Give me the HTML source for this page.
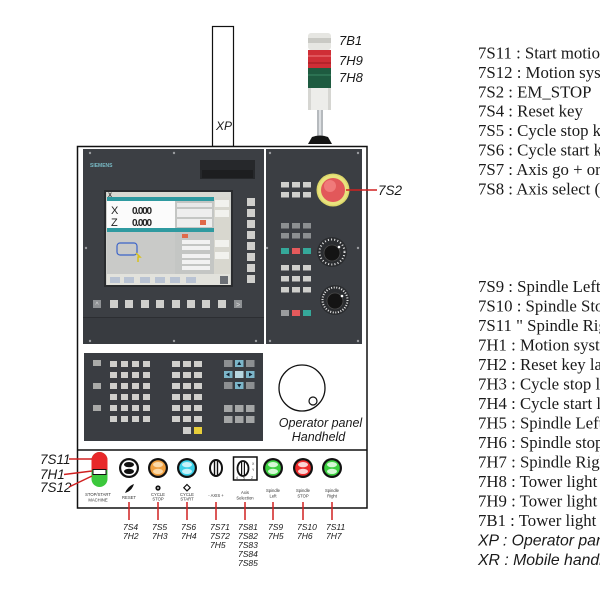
<!DOCTYPE html>
<html><head><meta charset="utf-8"><style>
html,body{margin:0;padding:0;background:#fff;width:600px;height:600px;overflow:hidden}
svg{display:block}
.lg{font-family:"Liberation Serif",serif;font-size:16.8px;fill:#1a1a1a}
.lgi{font-family:"Liberation Sans",sans-serif;font-style:italic;font-size:15.8px;fill:#1a1a1a}
.it{font-family:"Liberation Sans",sans-serif;font-style:italic;fill:#1a1a1a}
.tiny{font-family:"Liberation Sans",sans-serif;font-size:4.2px;fill:#333;text-anchor:middle}
.k{fill:#cfcfcc}
.kd{fill:#8c8f91}
.kb{fill:#7cb6c9}
</style></head><body>
<svg width="600" height="600" viewBox="0 0 600 600" xmlns="http://www.w3.org/2000/svg">
<rect width="600" height="600" fill="#fff"/>

<!-- XP box -->
<rect x="212.5" y="26.5" width="21" height="120" fill="none" stroke="#111" stroke-width="1.2"/>
<text x="216" y="130" class="it" font-size="12">XP</text>

<!-- Tower light -->
<rect x="308" y="33" width="23" height="17" rx="3" fill="#e6e6e2"/>
<rect x="308" y="38" width="23" height="5" fill="#c9c9c4"/>
<rect x="308" y="50" width="23" height="18" fill="#cf2e36"/>
<rect x="308" y="55" width="23" height="2" fill="#e0555b"/>
<rect x="308" y="62" width="23" height="2" fill="#b5232b"/>
<rect x="308" y="68" width="23" height="20" fill="#1e5b40"/>
<rect x="308" y="74" width="23" height="2" fill="#2c7252"/>
<rect x="308" y="88" width="23" height="22" fill="#ededea"/>
<rect x="308" y="88" width="3" height="22" fill="#d6d6d2"/>
<rect x="328" y="88" width="3" height="22" fill="#d6d6d2"/>
<rect x="317" y="110" width="6" height="26" fill="#b6babe"/>
<rect x="319" y="110" width="2" height="26" fill="#dde0e3"/>
<path d="M308 144 L312 137 Q320 134 328 137 L332 144 Z" fill="#141414"/>
<text x="339" y="45" class="it" font-size="13">7B1</text>
<text x="339" y="65" class="it" font-size="13">7H9</text>
<text x="339" y="82" class="it" font-size="13">7H8</text>

<!-- Panel outline -->
<rect x="77.5" y="146.5" width="289.5" height="361.5" fill="#fff" stroke="#111" stroke-width="1.5"/>
<line x1="77.5" y1="450" x2="367" y2="450" stroke="#111" stroke-width="1.5"/>

<!-- Left dark panel -->
<rect x="83" y="149" width="181" height="195" fill="#3c3f44"/>
<rect x="83" y="318" width="181" height="26" fill="#383b40"/>
<line x1="83" y1="317.5" x2="264" y2="317.5" stroke="#2c2e32" stroke-width="1"/>
<circle cx="90" cy="153" r="1.2" fill="#9a9c9f"/>
<circle cx="174" cy="153" r="1.2" fill="#9a9c9f"/>
<circle cx="86" cy="248" r="1.2" fill="#9a9c9f"/>
<circle cx="90" cy="341" r="1.2" fill="#9a9c9f"/>
<circle cx="174" cy="341" r="1.2" fill="#9a9c9f"/>
<circle cx="256" cy="341" r="1.2" fill="#9a9c9f"/>
<text x="90" y="167" font-family="Liberation Sans,sans-serif" font-size="5" fill="#78b9c4" font-weight="bold">SIEMENS</text>
<rect x="200" y="160" width="55" height="19" fill="#26282b"/>
<rect x="202" y="170" width="51" height="8" fill="#1d1e20"/>

<!-- Screen -->
<rect x="104" y="190" width="129" height="97" fill="#2a2c2f"/>
<rect x="106" y="192" width="125" height="93" fill="#cfd0cc"/>
<rect x="107" y="192" width="123" height="5" fill="#d9d9d2"/>
<text x="108" y="197" font-family="Liberation Sans,sans-serif" font-size="6" font-weight="bold" fill="#333">X</text>
<rect x="107" y="197" width="107" height="4" fill="#2f9aa0"/>
<rect x="107" y="201" width="68" height="27" fill="#fbfbfb"/>
<text x="111" y="214" font-family="Liberation Sans,sans-serif" font-size="11" fill="#222">X</text>
<text x="111" y="226" font-family="Liberation Sans,sans-serif" font-size="11" fill="#222">Z</text>
<text x="132" y="214" font-family="Liberation Sans,sans-serif" font-size="10" font-weight="bold" fill="#222" textLength="20">0.000</text>
<text x="132" y="226" font-family="Liberation Sans,sans-serif" font-size="10" font-weight="bold" fill="#222" textLength="20">0.000</text>
<rect x="175" y="201" width="39" height="27" fill="#c4c6c4"/>
<rect x="177" y="203" width="35" height="4" fill="#e8e8e8"/>
<rect x="177" y="209" width="35" height="8" fill="#eeeeee"/>
<rect x="177" y="219" width="35" height="8" fill="#eeeeee"/>
<rect x="200" y="220" width="6" height="5" fill="#e06a4a"/>
<rect x="107" y="228" width="107" height="4" fill="#2f9aa0"/>
<rect x="107" y="232" width="68" height="42" fill="#c9cac8"/>
<rect x="117" y="243" width="20" height="12" rx="3" fill="none" stroke="#3c64c8" stroke-width="1.2"/>
<path d="M136 253 l4 4 l-2 0 l0 5" stroke="#d8c21a" stroke-width="1.5" fill="none"/>
<rect x="175" y="232" width="39" height="42" fill="#c4c6c4"/>
<rect x="182" y="234" width="6" height="4" fill="#e06a4a"/>
<rect x="182" y="240" width="28" height="4" fill="#f2f2f2"/>
<rect x="182" y="246" width="28" height="4" fill="#f2f2f2"/>
<rect x="182" y="254" width="28" height="4" fill="#f2f2f2"/>
<rect x="182" y="260" width="28" height="4" fill="#f2f2f2"/>
<rect x="182" y="266" width="28" height="4" fill="#f2f2f2"/>
<rect x="214" y="197" width="16" height="77" fill="#d8d7cf"/>
<rect x="215" y="200" width="14" height="7" fill="#f2f2ee"/>
<rect x="215" y="210" width="14" height="7" fill="#f2f2ee"/>
<rect x="215" y="240" width="14" height="7" fill="#f2f2ee"/>
<rect x="215" y="252" width="14" height="7" fill="#f2f2ee"/>
<rect x="107" y="274" width="123" height="11" fill="#e2e2dc"/>
<rect x="110" y="277" width="10" height="6" fill="#b9c3d3"/>
<rect x="124" y="277" width="10" height="6" fill="#b9c3d3"/>
<rect x="140" y="277" width="10" height="6" fill="#b9c3d3"/>
<rect x="155" y="277" width="10" height="6" fill="#b9c3d3"/>
<rect x="170" y="277" width="10" height="6" fill="#b9c3d3"/>
<rect x="186" y="277" width="10" height="6" fill="#b9c3d3"/>
<rect x="220" y="276" width="8" height="8" fill="#6b6f75"/>

<!-- vertical softkeys -->
<rect x="247" y="198" width="8" height="8" class="k"/>
<rect x="247" y="209" width="8" height="8" class="k"/>
<rect x="247" y="220" width="8" height="8" class="k"/>
<rect x="247" y="231" width="8" height="8" class="k"/>
<rect x="247" y="242" width="8" height="8" class="k"/>
<rect x="247" y="253" width="8" height="8" class="k"/>
<rect x="247" y="264" width="8" height="8" class="k"/>
<rect x="247" y="275" width="8" height="8" class="k"/>
<!-- horizontal softkeys -->
<rect x="93" y="300" width="8" height="8" fill="#8f9295"/>
<text x="97" y="307" font-family="Liberation Sans,sans-serif" font-size="7" fill="#ddd" text-anchor="middle">^</text>
<rect x="110" y="300" width="8" height="8" class="k"/>
<rect x="125" y="300" width="8" height="8" class="k"/>
<rect x="141" y="300" width="8" height="8" class="k"/>
<rect x="156" y="300" width="8" height="8" class="k"/>
<rect x="172" y="300" width="8" height="8" class="k"/>
<rect x="187" y="300" width="8" height="8" class="k"/>
<rect x="202" y="300" width="8" height="8" class="k"/>
<rect x="218" y="300" width="8" height="8" class="k"/>
<rect x="234" y="300" width="8" height="8" fill="#8f9295"/>
<text x="238" y="307" font-family="Liberation Sans,sans-serif" font-size="7" fill="#ddd" text-anchor="middle">&gt;</text>

<!-- Right dark panel -->
<rect x="266" y="149" width="96" height="195" fill="#3b3e43"/>
<circle cx="270" cy="153" r="1.2" fill="#9a9c9f"/>
<circle cx="358" cy="153" r="1.2" fill="#9a9c9f"/>
<circle cx="267" cy="248" r="1.2" fill="#9a9c9f"/>
<circle cx="358" cy="248" r="1.2" fill="#9a9c9f"/>
<circle cx="270" cy="341" r="1.2" fill="#9a9c9f"/>
<circle cx="358" cy="341" r="1.2" fill="#9a9c9f"/>
<!-- group 1 -->
<rect x="281" y="182" width="8" height="5.5" class="k"/>
<rect x="292" y="182" width="8" height="5.5" class="k"/>
<rect x="303" y="182" width="8" height="5.5" class="k"/>
<rect x="281" y="192" width="8" height="5.5" class="k"/>
<rect x="292" y="192" width="8" height="5.5" class="k"/>
<rect x="303" y="192" width="8" height="5.5" class="k"/>
<!-- group 2 -->
<rect x="281" y="223" width="8" height="5.5" class="kd"/>
<rect x="292" y="223" width="8" height="5.5" class="kd"/>
<rect x="303" y="223" width="8" height="5.5" class="kd"/>
<rect x="281" y="233" width="8" height="5.5" class="kd"/>
<rect x="292" y="233" width="8" height="5.5" class="kd"/>
<rect x="303" y="233" width="8" height="5.5" class="kd"/>
<!-- color row -->
<rect x="281" y="248" width="8" height="6" fill="#35a89a"/>
<rect x="292" y="248" width="8" height="6" fill="#e55a5c"/>
<rect x="303" y="248" width="8" height="6" fill="#35a89a"/>
<!-- group 3 -->
<rect x="281" y="265" width="8" height="5.5" class="k"/>
<rect x="292" y="265" width="8" height="5.5" class="k"/>
<rect x="303" y="265" width="8" height="5.5" class="k"/>
<rect x="281" y="276" width="8" height="5.5" class="k"/>
<rect x="292" y="276" width="8" height="5.5" class="k"/>
<rect x="303" y="276" width="8" height="5.5" class="k"/>
<rect x="281" y="287" width="8" height="5.5" class="k"/>
<rect x="292" y="287" width="8" height="5.5" class="k"/>
<rect x="303" y="287" width="8" height="5.5" class="k"/>
<!-- last row -->
<rect x="281" y="310" width="8" height="6" fill="#9a9c9e"/>
<rect x="292" y="310" width="8" height="6" fill="#e55a5c"/>
<rect x="303" y="310" width="8" height="6" fill="#35a89a"/>
<!-- E-stop -->
<circle cx="333" cy="190" r="16.5" fill="#dcd76a"/>
<circle cx="333" cy="190" r="15" fill="#e9e37e"/>
<circle cx="333" cy="190" r="12" fill="#e2585a"/>
<circle cx="330" cy="186" r="6" fill="#f07a7a"/>
<line x1="346" y1="190" x2="377" y2="190" stroke="#d02020" stroke-width="1.5"/>
<text x="378" y="195" class="it" font-size="13.5">7S2</text>
<!-- knobs -->
<circle cx="332" cy="252" r="15" fill="#2b2d30"/>
<circle cx="332" cy="252" r="12.5" fill="none" stroke="#e8e8e8" stroke-width="2" stroke-dasharray="1 2.2"/>
<circle cx="332" cy="253" r="8" fill="#141414" stroke="#4a4a4a" stroke-width="0.8"/>
<circle cx="339" cy="247" r="1.3" fill="#fff"/>
<circle cx="335" cy="300" r="15" fill="#2b2d30"/>
<circle cx="335" cy="300" r="12.5" fill="none" stroke="#e8e8e8" stroke-width="2" stroke-dasharray="1 1.6"/>
<circle cx="335" cy="301" r="8" fill="#141414" stroke="#4a4a4a" stroke-width="0.8"/>
<circle cx="342" cy="296" r="1.3" fill="#fff"/>

<!-- Keyboard -->
<rect x="84" y="353" width="179" height="88" fill="#3a3d42"/>
<rect x="93" y="360" width="8" height="6" fill="#a9aaa8"/>
<rect x="93" y="383" width="8" height="6" fill="#a9aaa8"/>
<rect x="93" y="405" width="8" height="6" fill="#a9aaa8"/>
<!-- alpha -->
<g class="k">
<rect x="110" y="361" width="7" height="6"/><rect x="121" y="361" width="7" height="6"/><rect x="132" y="361" width="7" height="6"/><rect x="143" y="361" width="7" height="6"/>
<rect x="110" y="372" width="7" height="6"/><rect x="121" y="372" width="7" height="6"/><rect x="132" y="372" width="7" height="6"/><rect x="143" y="372" width="7" height="6"/>
<rect x="110" y="383" width="7" height="6"/><rect x="121" y="383" width="7" height="6"/><rect x="132" y="383" width="7" height="6"/><rect x="143" y="383" width="7" height="6"/>
<rect x="110" y="394" width="7" height="6"/><rect x="121" y="394" width="7" height="6"/><rect x="132" y="394" width="7" height="6"/><rect x="143" y="394" width="7" height="6"/>
<rect x="110" y="405" width="7" height="6"/><rect x="121" y="405" width="7" height="6"/><rect x="132" y="405" width="7" height="6"/><rect x="143" y="405" width="7" height="6"/>
<rect x="110" y="416" width="7" height="6"/><rect x="121" y="416" width="7" height="6"/><rect x="132" y="416" width="7" height="6"/><rect x="143" y="416" width="7" height="6"/>
<!-- numeric -->
<rect x="172" y="361" width="8" height="6"/><rect x="183" y="361" width="8" height="6"/><rect x="194" y="361" width="8" height="6"/>
<rect x="172" y="372" width="8" height="6"/><rect x="183" y="372" width="8" height="6"/><rect x="194" y="372" width="8" height="6"/>
<rect x="172" y="383" width="8" height="6"/><rect x="183" y="383" width="8" height="6"/><rect x="194" y="383" width="8" height="6"/>
<rect x="172" y="394" width="8" height="6"/><rect x="183" y="394" width="8" height="6"/><rect x="194" y="394" width="8" height="6"/>
<rect x="172" y="405" width="8" height="6"/><rect x="183" y="405" width="8" height="6"/><rect x="194" y="405" width="8" height="6"/>
<rect x="172" y="416" width="8" height="6"/><rect x="183" y="416" width="8" height="6"/><rect x="194" y="416" width="8" height="6"/>
<rect x="183" y="427" width="8" height="7"/>
</g>
<rect x="194" y="427" width="8" height="7" fill="#e8cf3a"/>
<!-- right group -->
<rect x="224" y="360" width="8.5" height="7" class="kd"/>
<rect x="235" y="360" width="8.5" height="7" class="kb"/>
<rect x="246" y="360" width="8.5" height="7" class="kd"/>
<rect x="224" y="371" width="8.5" height="7" class="kb"/>
<rect x="235" y="371" width="8.5" height="7" fill="#b7d6e0"/>
<rect x="246" y="371" width="8.5" height="7" class="kb"/>
<rect x="224" y="382" width="8.5" height="7" class="kd"/>
<rect x="235" y="382" width="8.5" height="7" class="kb"/>
<rect x="246" y="382" width="8.5" height="7" class="kd"/>
<path d="M239.2 361.5 l-2 3.5 h4 z" fill="#123"/>
<path d="M239.2 387.5 l-2 -3.5 h4 z" fill="#123"/>
<path d="M226 374.5 l3.5 -2 v4 z" fill="#123"/>
<path d="M252.5 374.5 l-3.5 -2 v4 z" fill="#123"/>
<rect x="224" y="405" width="8.5" height="7" fill="#a4a6a6"/>
<rect x="235" y="405" width="8.5" height="7" fill="#a4a6a6"/>
<rect x="246" y="405" width="8.5" height="7" fill="#a4a6a6"/>
<rect x="224" y="416" width="8.5" height="7" fill="#a4a6a6"/>
<rect x="235" y="416" width="8.5" height="7" fill="#a4a6a6"/>
<rect x="246" y="416" width="8.5" height="7" fill="#a4a6a6"/>

<!-- Handheld -->
<circle cx="302" cy="388" r="23" fill="none" stroke="#111" stroke-width="1.3"/>
<circle cx="313" cy="401" r="4" fill="none" stroke="#111" stroke-width="1.2"/>
<text x="320.5" y="427" class="it" font-size="12.5" text-anchor="middle">Operator panel</text>
<text x="318.5" y="441" class="it" font-size="12.5" text-anchor="middle">Handheld</text>

<!-- Bottom row: start/stop pill -->
<rect x="91.5" y="452" width="16" height="35" rx="8" fill="#3cc83c"/>
<path d="M91.5 470 V460 a8 8 0 0 1 16 0 V470 Z" fill="#e8282a"/>
<rect x="93" y="469.5" width="13" height="5" fill="#fff" stroke="#111" stroke-width="1"/>
<text x="40" y="464" class="it" font-size="13.5">7S11</text>
<text x="40" y="479" class="it" font-size="13.5">7H1</text>
<text x="40" y="492" class="it" font-size="13.5">7S12</text>
<line x1="69" y1="459" x2="92" y2="459" stroke="#d02020" stroke-width="1.5"/>
<line x1="64" y1="474.5" x2="92" y2="471" stroke="#d02020" stroke-width="1.5"/>
<line x1="69" y1="487" x2="92" y2="476" stroke="#d02020" stroke-width="1.5"/>
<text x="98" y="496" class="tiny">STOP/START</text>
<text x="98" y="501.5" class="tiny">MACHINE</text>

<!-- round buttons -->
<g>
<circle cx="129" cy="468" r="10" fill="#111"/>
<circle cx="129" cy="468" r="7.8" fill="#fff"/>
<ellipse cx="129" cy="464.6" rx="5" ry="2.6" fill="#111"/>
<ellipse cx="129" cy="471.4" rx="5" ry="2.6" fill="#111"/>

<circle cx="158" cy="468" r="10" fill="#111"/>
<circle cx="158" cy="468" r="7.8" fill="#f0a040"/>
<ellipse cx="158" cy="464.6" rx="5" ry="2.6" fill="#fbd9a8"/>
<ellipse cx="158" cy="471.4" rx="5" ry="2.6" fill="#fbd9a8"/>

<circle cx="187" cy="468" r="10" fill="#111"/>
<circle cx="187" cy="468" r="7.8" fill="#3cd0e8"/>
<ellipse cx="187" cy="464.6" rx="5" ry="2.6" fill="#c8f2fa"/>
<ellipse cx="187" cy="471.4" rx="5" ry="2.6" fill="#c8f2fa"/>

<ellipse cx="216" cy="468" rx="6" ry="8" fill="#fff" stroke="#111" stroke-width="2"/>
<line x1="214.5" y1="460.5" x2="214.5" y2="475.5" stroke="#111" stroke-width="1.4"/>
<line x1="217.5" y1="460.5" x2="217.5" y2="475.5" stroke="#111" stroke-width="1.4"/>

<rect x="233.5" y="457" width="23.5" height="23" fill="#fff" stroke="#111" stroke-width="1.5"/>
<ellipse cx="243" cy="468.5" rx="5.5" ry="7.5" fill="#fff" stroke="#111" stroke-width="1.8"/>
<line x1="241.6" y1="461.5" x2="241.6" y2="475.5" stroke="#111" stroke-width="1.2"/>
<line x1="244.4" y1="461.5" x2="244.4" y2="475.5" stroke="#111" stroke-width="1.2"/>
<text x="252" y="465" font-family="Liberation Sans,sans-serif" font-size="3.5" fill="#333">X</text>
<text x="252" y="471" font-family="Liberation Sans,sans-serif" font-size="3.5" fill="#333">Y</text>
<text x="236" y="479" font-family="Liberation Sans,sans-serif" font-size="3.5" fill="#333">4</text>
<text x="243" y="479.5" font-family="Liberation Sans,sans-serif" font-size="3.5" fill="#333">5</text>
<text x="251" y="479" font-family="Liberation Sans,sans-serif" font-size="3.5" fill="#333">Z</text>

<circle cx="273" cy="468" r="10" fill="#111"/>
<circle cx="273" cy="468" r="7.8" fill="#3cd040"/>
<ellipse cx="273" cy="464.6" rx="5" ry="2.6" fill="#d6f8d6"/>
<ellipse cx="273" cy="471.4" rx="5" ry="2.6" fill="#d6f8d6"/>

<circle cx="303" cy="468" r="10" fill="#111"/>
<circle cx="303" cy="468" r="7.8" fill="#ee2a2a"/>
<ellipse cx="303" cy="464.6" rx="5" ry="2.6" fill="#fcd4d4"/>
<ellipse cx="303" cy="471.4" rx="5" ry="2.6" fill="#fcd4d4"/>

<circle cx="332" cy="468" r="10" fill="#111"/>
<circle cx="332" cy="468" r="7.8" fill="#3cd040"/>
<ellipse cx="332" cy="464.6" rx="5" ry="2.6" fill="#d6f8d6"/>
<ellipse cx="332" cy="471.4" rx="5" ry="2.6" fill="#d6f8d6"/>
</g>

<!-- small icons & captions -->
<path d="M125 493 Q128 486 134 484 Q132 491 125 493 Z" fill="#111"/>
<text x="129" y="499" class="tiny">RESET</text>
<circle cx="158" cy="488" r="2.6" fill="#111"/>
<circle cx="158" cy="488" r="0.9" fill="#fff"/>
<text x="158" y="496" class="tiny" font-size="3.5">CYCLE</text>
<text x="158" y="500.5" class="tiny" font-size="3.5">STOP</text>
<path d="M187 484.5 l3.2 3.2 l-3.2 3.2 l-3.2 -3.2 z" fill="none" stroke="#111" stroke-width="1.2"/>
<text x="187" y="496" class="tiny" font-size="3.5">CYCLE</text>
<text x="187" y="500.5" class="tiny" font-size="3.5">START</text>
<text x="216" y="497" class="tiny">-  AXIS  +</text>
<text x="245" y="494" class="tiny">Axis</text>
<text x="245" y="499.5" class="tiny">Selection</text>
<text x="273" y="492" class="tiny">Spindle</text>
<text x="273" y="497.5" class="tiny">Left</text>
<text x="303" y="492" class="tiny">Spindle</text>
<text x="303" y="497.5" class="tiny">STOP</text>
<text x="332" y="492" class="tiny">Spindle</text>
<text x="332" y="497.5" class="tiny">Right</text>

<!-- red leader lines -->
<g stroke="#d02020" stroke-width="1.5">
<line x1="129" y1="502" x2="129" y2="520"/>
<line x1="158" y1="502" x2="158" y2="520"/>
<line x1="187" y1="502" x2="187" y2="520"/>
<line x1="216" y1="502" x2="216" y2="520"/>
<line x1="245" y1="502" x2="245" y2="520"/>
<line x1="273" y1="502" x2="273" y2="520"/>
<line x1="303" y1="502" x2="303" y2="520"/>
<line x1="332" y1="502" x2="332" y2="520"/>
</g>
<g class="it" font-size="8.5">
<text x="123" y="530">7S4</text><text x="123" y="539">7H2</text>
<text x="152" y="530">7S5</text><text x="152" y="539">7H3</text>
<text x="181" y="530">7S6</text><text x="181" y="539">7H4</text>
<text x="210" y="530">7S71</text><text x="210" y="539">7S72</text><text x="210" y="548">7H5</text>
<text x="238" y="530">7S81</text><text x="238" y="539">7S82</text><text x="238" y="548">7S83</text><text x="238" y="557">7S84</text><text x="238" y="566">7S85</text>
<text x="268" y="530">7S9</text><text x="268" y="539">7H5</text>
<text x="297" y="530">7S10</text><text x="297" y="539">7H6</text>
<text x="326" y="530">7S11</text><text x="326" y="539">7H7</text>
</g>

<!-- Legend upper -->
<g class="lg">
<text x="478" y="58.5">7S11 : Start motion system</text>
<text x="478" y="77.9">7S12 : Motion system stop</text>
<text x="478" y="97.3">7S2 : EM_STOP</text>
<text x="478" y="116.7">7S4 : Reset key</text>
<text x="478" y="136.1">7S5 : Cycle stop key</text>
<text x="478" y="155.5">7S6 : Cycle start key</text>
<text x="478" y="174.9">7S7 : Axis go + or -</text>
<text x="478" y="194.3">7S8 : Axis select (X, Y, Z)</text>
</g>
<!-- Legend lower -->
<g class="lg">
<text x="478" y="292">7S9 : Spindle Left</text>
<text x="478" y="311.5">7S10 : Spindle Stop</text>
<text x="478" y="331">7S11 " Spindle Right</text>
<text x="478" y="350.5">7H1 : Motion system lamp</text>
<text x="478" y="370">7H2 : Reset key lamp</text>
<text x="478" y="389.5">7H3 : Cycle stop lamp</text>
<text x="478" y="409">7H4 : Cycle start lamp</text>
<text x="478" y="428.5">7H5 : Spindle Left lamp</text>
<text x="478" y="448">7H6 : Spindle stop lamp</text>
<text x="478" y="467.5">7H7 : Spindle Right lamp</text>
<text x="478" y="487">7H8 : Tower light green</text>
<text x="478" y="506.5">7H9 : Tower light red</text>
<text x="478" y="526">7B1 : Tower light buzzer</text>
</g>
<text x="478" y="545.5" class="lgi">XP : Operator panel</text>
<text x="478" y="565" class="lgi">XR : Mobile handheld</text>
</svg>
</body></html>
